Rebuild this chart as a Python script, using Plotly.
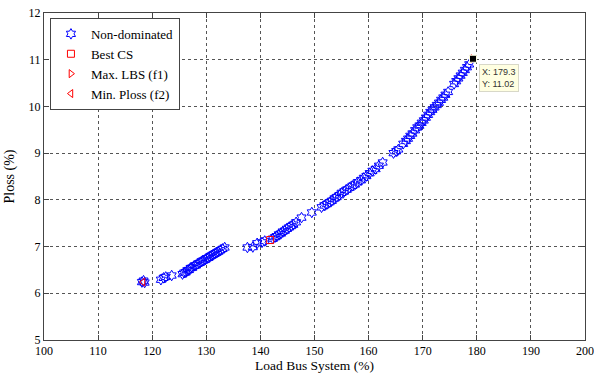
import plotly.graph_objects as go

# Non-dominated solutions (Load Bus System %, Ploss %)
nd_x = [118.1, 118.4, 118.6, 121.6, 122.1, 122.5, 123.6,
        125.6, 125.9, 126.2, 126.5, 126.8, 127.1, 127.4, 127.8, 128.1, 128.4, 128.8,
        129.1, 129.4, 129.8, 130.1, 130.4, 130.7, 131.0, 131.3, 131.6, 131.9, 132.2,
        132.6, 133.0, 133.4,
        137.6, 138.6, 139.4, 140.3, 140.8,
        142.3, 142.7, 143.0, 143.4, 143.8, 144.1, 144.5, 144.9, 145.3, 145.7, 146.1,
        146.6, 147.6,
        149.5,
        151.3, 151.8, 152.3, 152.8, 153.2, 153.7, 154.1, 154.6, 155.0, 155.5, 156.0,
        156.5, 157.0, 157.5, 158.0, 158.6, 159.1, 159.6, 160.2, 160.7, 161.3, 161.9,
        162.6,
        164.6, 165.1, 165.5,
        166.4, 166.9, 167.3, 167.7, 168.1, 168.6, 169.0, 169.4, 169.8, 170.2, 170.6,
        171.0, 171.4, 171.8, 172.2, 172.6, 173.0, 173.4, 173.8, 174.2, 174.7,
        175.8, 176.2, 176.6, 177.0, 177.4, 177.8, 178.2, 178.6]
nd_y = [6.24, 6.27, 6.23, 6.29, 6.33, 6.35, 6.38,
        6.41, 6.44, 6.45, 6.49, 6.50, 6.54, 6.55, 6.59, 6.60, 6.63, 6.65,
        6.68, 6.70, 6.72, 6.75, 6.76, 6.79, 6.81, 6.83, 6.85, 6.87, 6.89,
        6.92, 6.95, 6.98,
        6.98, 6.99, 7.07, 7.09, 7.12,
        7.17, 7.20, 7.22, 7.26, 7.28, 7.32, 7.34, 7.38, 7.41, 7.44, 7.47,
        7.52, 7.62,
        7.73,
        7.84, 7.88, 7.91, 7.95, 7.98, 8.03, 8.06, 8.10, 8.15, 8.18, 8.22,
        8.26, 8.30, 8.33, 8.38, 8.42, 8.47, 8.51, 8.57, 8.62, 8.66, 8.73,
        8.80,
        9.00, 9.04, 9.08,
        9.20, 9.26, 9.31, 9.37, 9.42, 9.49, 9.55, 9.59, 9.65, 9.70, 9.76,
        9.82, 9.88, 9.93, 9.98, 10.03, 10.08, 10.14, 10.19, 10.25, 10.31,
        10.48, 10.54, 10.60, 10.66, 10.72, 10.78, 10.84, 10.90]

best_cs_x = [141.8]
best_cs_y = [7.14]
max_lbs_x = [179.3]
max_lbs_y = [11.02]
min_ploss_x = [118.3]
min_ploss_y = [6.24]

x_ticks = [100, 110, 120, 130, 140, 150, 160, 170, 180, 190, 200]
y_ticks = [5, 6, 7, 8, 9, 10, 11, 12]

serif = "Liberation Serif"
blue = "#0000ff"
red = "#ff0000"

fig = go.Figure()
fig.add_trace(go.Scatter(x=nd_x, y=nd_y, mode="markers", name="Non-dominated",
                         marker=dict(symbol="hexagram-open", size=8, color=blue,
                                     line=dict(width=1, color=blue))))
fig.add_trace(go.Scatter(x=best_cs_x, y=best_cs_y, mode="markers", name="Best CS",
                         marker=dict(symbol="square-open", size=7, color=red,
                                     line=dict(width=1, color=red))))
fig.add_trace(go.Scatter(x=max_lbs_x, y=max_lbs_y, mode="markers", name="Max. LBS (f1)",
                         marker=dict(symbol="triangle-right-open", size=7, color=red,
                                     line=dict(width=1, color=red))))
fig.add_trace(go.Scatter(x=min_ploss_x, y=min_ploss_y, mode="markers", name="Min. Ploss (f2)",
                         marker=dict(symbol="triangle-left-open", size=7, color=red,
                                     line=dict(width=1, color=red))))
# data tip marker
fig.add_trace(go.Scatter(x=max_lbs_x, y=max_lbs_y, mode="markers", showlegend=False,
                         marker=dict(symbol="square", size=7, color="black",
                                     line=dict(width=1, color="#ffffe1"))))

fig.add_annotation(x=max_lbs_x[0], y=max_lbs_y[0], xref="x", yref="y",
                   text="X: 179.3<br>Y: 11.02", showarrow=False,
                   xanchor="left", yanchor="top", xshift=6, yshift=-5,
                   align="left", font=dict(family="Liberation Sans", size=9, color="#333333"),
                   bgcolor="#ffffe1", bordercolor="#d8d8c8", borderwidth=1, borderpad=2)

axis_common = dict(showline=True, linecolor="#444444", linewidth=1, mirror="ticks",
                   ticks="inside", ticklen=5, tickcolor="#444444",
                   showgrid=True, gridcolor="#555555", griddash="dot", gridwidth=1,
                   zeroline=False, automargin=False,
                   tickfont=dict(family=serif, size=12, color="black"))

fig.update_layout(
    width=594, height=374,
    margin=dict(l=44, r=9, t=13, b=34),
    paper_bgcolor="white", plot_bgcolor="white",
    showlegend=True,
    legend=dict(x=0.011, y=0.985, xanchor="left", yanchor="top",
                bgcolor="white", bordercolor="#444444", borderwidth=1,
                font=dict(family=serif, size=13, color="black"),
                tracegroupgap=0, itemwidth=30),
    xaxis=dict(range=[100, 200], tickvals=x_ticks,
               title=dict(text="Load Bus System (%)", font=dict(family=serif, size=13.5, color="black"),
                          standoff=3),
               **axis_common),
    yaxis=dict(range=[5, 12], tickvals=y_ticks,
               title=dict(text="Ploss (%)", font=dict(family=serif, size=14, color="black"),
                          standoff=10),
               **axis_common),
)

fig.write_html("out.html")
